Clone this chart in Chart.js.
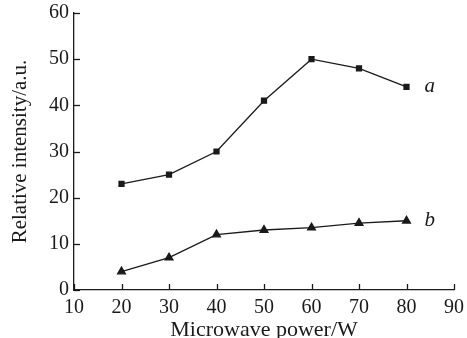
<!DOCTYPE html>
<html><head><meta charset="utf-8">
<script src="https://cdn.jsdelivr.net/npm/chart.js@4"></script>
<style>html,body{margin:0;padding:0;background:#fff}#wrap{width:467px;height:338px}</style>
</head><body><div id="wrap"><canvas id="c" width="467" height="338"></canvas></div>
<script>
const powers = [20, 30, 40, 50, 60, 70, 80];
const seriesA = [23, 25, 30, 41, 50, 48, 44];
const seriesB = [4, 7, 12, 13, 13.5, 14.5, 15];
const seriesLabels = ['a', 'b'];
const xTitle = 'Microwave power/W';
const yTitle = 'Relative intensity/a.u.';

const FONT = "'Liberation Serif', 'Times New Roman', serif";
const INK = '#1a1a1a';

const innerTicks = {
  id: 'innerTicks',
  afterDraw(chart) {
    const ctx = chart.ctx, xs = chart.scales.x, ys = chart.scales.y, a = chart.chartArea;
    ctx.save();
    ctx.strokeStyle = INK; ctx.lineWidth = 1.3;
    xs.ticks.forEach(t => { const px = Math.round(xs.getPixelForValue(t.value)) + 0.5;
      ctx.beginPath(); ctx.moveTo(px, a.bottom); ctx.lineTo(px, a.bottom - 6); ctx.stroke(); });
    ys.ticks.forEach(t => { const py = Math.round(ys.getPixelForValue(t.value)) + 0.5;
      ctx.beginPath(); ctx.moveTo(a.left, py); ctx.lineTo(a.left + 6, py); ctx.stroke(); });
    ctx.fillStyle = INK; ctx.font = "italic 21px " + FONT; ctx.textBaseline = 'middle'; ctx.textAlign = 'left';
    chart.data.datasets.forEach((ds, i) => {
      const last = ds.data[ds.data.length - 1];
      ctx.fillText(seriesLabels[i], xs.getPixelForValue(last.x) + 18, ys.getPixelForValue(last.y));
    });
    ctx.restore();
  }
};

new Chart(document.getElementById('c'), {
  type: 'line',
  data: {
    datasets: [
      { label: seriesLabels[0], data: powers.map((p, i) => ({x: p, y: seriesA[i]})),
        borderColor: INK, backgroundColor: INK, borderWidth: 1.3, pointStyle: 'rect', pointRadius: 3.5, tension: 0 },
      { label: seriesLabels[1], data: powers.map((p, i) => ({x: p, y: seriesB[i]})),
        borderColor: INK, backgroundColor: INK, borderWidth: 1.3, pointStyle: 'triangle', pointRadius: 4.5, tension: 0 }
    ]
  },
  options: {
    responsive: false, animation: false, devicePixelRatio: 1,
    layout: { padding: { top: 13, right: 13, left: 0, bottom: 0 } },
    plugins: { legend: { display: false }, tooltip: { enabled: false } },
    scales: {
      x: { type: 'linear', min: 10, max: 90,
        ticks: { stepSize: 10, color: INK, font: { family: FONT, size: 20 }, padding: 6, maxRotation: 0 },
        grid: { drawOnChartArea: false, drawTicks: false },
        border: { display: true, color: INK, width: 1.3 },
        title: { display: true, text: xTitle, color: INK, font: { family: FONT, size: 22 }, padding: { top: 0, bottom: -5 } },
        afterFit: s => { s.height = 48; s.paddingLeft = 0; s.paddingRight = 0; } },
      y: { min: 0, max: 60,
        ticks: { stepSize: 10, color: INK, font: { family: FONT, size: 20 }, padding: 5 },
        grid: { drawOnChartArea: false, drawTicks: false },
        border: { display: true, color: INK, width: 1.3 },
        title: { display: true, text: yTitle, color: INK, font: { family: FONT, size: 21 }, padding: { top: 8, bottom: 0 } },
        afterFit: s => { s.width = 74; s.paddingTop = 0; s.paddingBottom = 0; } }
    }
  },
  plugins: [innerTicks]
});
</script></body></html>
